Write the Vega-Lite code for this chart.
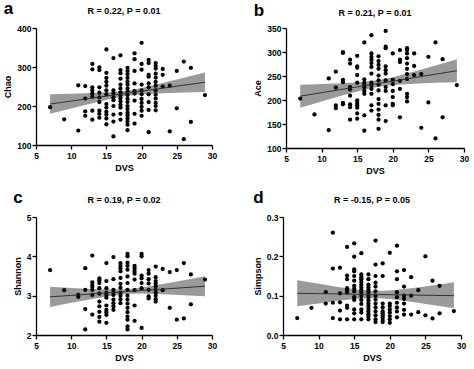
{
"$schema":"https://vega.github.io/schema/vega-lite/v6.json",
"padding":{"left":3,"top":0,"right":0,"bottom":0},
"background":"white",
"spacing":13,
"vconcat":[
 {"hconcat":[
  {"title":{"text":"a","anchor":"start","frame":"bounds","fontSize":17,"offset":-11},
   "vconcat":[{"width":176,"height":117,
    "title":{"text":"R = 0.22, P = 0.01","offset":8},
    "layer":[
     {"data":{"name":"ba"},"mark":{"type":"area","color":"#9a9a9a","opacity":1},
      "encoding":{"x":{"field":"x","type":"quantitative","scale":{"domain":[5,30],"nice":false,"zero":false},"axis":{"values":[5,10,15,20,25,30],"title":"DVS"}},
       "y":{"field":"lo","type":"quantitative","scale":{"domain":[100,400],"nice":false,"zero":false},"axis":{"values":[100,200,300,400],"labelOverlap":false,"labelSeparation":0,"title":"Chao"}},"y2":{"field":"hi"}}},
     {"data":{"name":"pa"},"mark":{"type":"circle","color":"black","opacity":1,"size":18},
      "encoding":{"x":{"field":"x","type":"quantitative","axis":{"values":[5,10,15,20,25,30],"title":"DVS"}},"y":{"field":"y","type":"quantitative","axis":{"values":[100,200,300,400],"labelOverlap":false,"labelSeparation":0,"title":"Chao"}}}},
     {"data":{"name":"ba"},"mark":{"type":"line","color":"#333333","strokeWidth":1},
      "encoding":{"x":{"field":"x","type":"quantitative","axis":{"values":[5,10,15,20,25,30],"title":"DVS"}},"y":{"field":"fit","type":"quantitative","axis":{"values":[100,200,300,400],"labelOverlap":false,"labelSeparation":0,"title":"Chao"}}}}
    ]}]},
  {"title":{"text":"b","anchor":"start","frame":"bounds","fontSize":17,"offset":-11},
   "vconcat":[{"width":178,"height":120,
    "title":{"text":"R = 0.21, P = 0.01","offset":6},
    "layer":[
     {"data":{"name":"bb"},"mark":{"type":"area","color":"#9a9a9a","opacity":1},
      "encoding":{"x":{"field":"x","type":"quantitative","scale":{"domain":[5,30],"nice":false,"zero":false},"axis":{"values":[5,10,15,20,25,30],"title":"DVS"}},
       "y":{"field":"lo","type":"quantitative","scale":{"domain":[100,350],"nice":false,"zero":false},"axis":{"values":[100,150,200,250,300,350],"title":"Ace"}},"y2":{"field":"hi"}}},
     {"data":{"name":"pb"},"mark":{"type":"circle","color":"black","opacity":1,"size":18},
      "encoding":{"x":{"field":"x","type":"quantitative","axis":{"values":[5,10,15,20,25,30],"title":"DVS"}},"y":{"field":"y","type":"quantitative","axis":{"values":[100,150,200,250,300,350],"title":"Ace"}}}},
     {"data":{"name":"bb"},"mark":{"type":"line","color":"#333333","strokeWidth":1},
      "encoding":{"x":{"field":"x","type":"quantitative","axis":{"values":[5,10,15,20,25,30],"title":"DVS"}},"y":{"field":"fit","type":"quantitative","axis":{"values":[100,150,200,250,300,350],"title":"Ace"}}}}
    ]}]}
 ],"spacing":36},
 {"hconcat":[
  {"title":{"text":"c","anchor":"start","frame":"bounds","fontSize":17,"offset":-11},
   "vconcat":[{"width":176,"height":118,
    "title":{"text":"R = 0.19, P = 0.02","offset":8},
    "layer":[
     {"data":{"name":"bc"},"mark":{"type":"area","color":"#9a9a9a","opacity":1},
      "encoding":{"x":{"field":"x","type":"quantitative","scale":{"domain":[5,30],"nice":false,"zero":false},"axis":{"values":[5,10,15,20,25,30],"title":"DVS"}},
       "y":{"field":"lo","type":"quantitative","scale":{"domain":[2,5],"nice":false,"zero":false},"axis":{"values":[2,3,4,5],"title":"Shannon"}},"y2":{"field":"hi"}}},
     {"data":{"name":"pc"},"mark":{"type":"circle","color":"black","opacity":1,"size":18},
      "encoding":{"x":{"field":"x","type":"quantitative","axis":{"values":[5,10,15,20,25,30],"title":"DVS"}},"y":{"field":"y","type":"quantitative","axis":{"values":[2,3,4,5],"title":"Shannon"}}}},
     {"data":{"name":"bc"},"mark":{"type":"line","color":"#333333","strokeWidth":1},
      "encoding":{"x":{"field":"x","type":"quantitative","axis":{"values":[5,10,15,20,25,30],"title":"DVS"}},"y":{"field":"fit","type":"quantitative","axis":{"values":[2,3,4,5],"title":"Shannon"}}}}
    ]}]},
  {"title":{"text":"d","anchor":"start","frame":"bounds","fontSize":17,"offset":-11},
   "vconcat":[{"width":178,"height":118,
    "title":{"text":"R = -0.15, P = 0.05","offset":8},
    "layer":[
     {"data":{"name":"bd"},"mark":{"type":"area","color":"#9a9a9a","opacity":1},
      "encoding":{"x":{"field":"x","type":"quantitative","scale":{"domain":[5,30],"nice":false,"zero":false},"axis":{"values":[5,10,15,20,25,30],"title":"DVS"}},
       "y":{"field":"lo","type":"quantitative","scale":{"domain":[0,0.3],"nice":false,"zero":false},"axis":{"values":[0,0.1,0.2,0.3],"format":".1f","title":"Simpson"}},"y2":{"field":"hi"}}},
     {"data":{"name":"pd"},"mark":{"type":"circle","color":"black","opacity":1,"size":18},
      "encoding":{"x":{"field":"x","type":"quantitative","axis":{"values":[5,10,15,20,25,30],"title":"DVS"}},"y":{"field":"y","type":"quantitative","axis":{"values":[0,0.1,0.2,0.3],"format":".1f","title":"Simpson"}}}},
     {"data":{"name":"bd"},"mark":{"type":"line","color":"#333333","strokeWidth":1},
      "encoding":{"x":{"field":"x","type":"quantitative","axis":{"values":[5,10,15,20,25,30],"title":"DVS"}},"y":{"field":"fit","type":"quantitative","axis":{"values":[0,0.1,0.2,0.3],"format":".1f","title":"Simpson"}}}}
    ]}]}
 ],"spacing":36}
],
"datasets":{
"ba":[{"x":7,"lo":180,"hi":230,"fit":205},{"x":10,"lo":193.8,"hi":231.4,"fit":212.6},{"x":13,"lo":207.3,"hi":233.3,"fit":220.3},{"x":16,"lo":219.7,"hi":236.1,"fit":227.9},{"x":18,"lo":226,"hi":240,"fit":233},{"x":20,"lo":229.9,"hi":246.3,"fit":238.1},{"x":23,"lo":232.7,"hi":258.7,"fit":245.7},{"x":26,"lo":234.6,"hi":272.2,"fit":253.4},{"x":29,"lo":236,"hi":286,"fit":261}],
"bb":[{"x":7,"lo":184,"hi":232,"fit":208},{"x":10,"lo":197.1,"hi":233.3,"fit":215.2},{"x":13,"lo":209.9,"hi":235.1,"fit":222.5},{"x":16,"lo":221.6,"hi":237.8,"fit":229.7},{"x":18,"lo":227.5,"hi":241.5,"fit":234.5},{"x":20,"lo":231.2,"hi":247.4,"fit":239.3},{"x":23,"lo":234,"hi":259.2,"fit":246.6},{"x":26,"lo":235.7,"hi":271.9,"fit":253.8},{"x":29,"lo":237,"hi":285,"fit":261}],
"bc":[{"x":7,"lo":2.715,"hi":3.225,"fit":2.97},{"x":10,"lo":2.817,"hi":3.197,"fit":3.007},{"x":13,"lo":2.916,"hi":3.172,"fit":3.044},{"x":16,"lo":3.005,"hi":3.155,"fit":3.08},{"x":18,"lo":3.045,"hi":3.165,"fit":3.105},{"x":20,"lo":3.055,"hi":3.205,"fit":3.13},{"x":23,"lo":3.038,"hi":3.294,"fit":3.166},{"x":26,"lo":3.013,"hi":3.393,"fit":3.203},{"x":29,"lo":2.985,"hi":3.495,"fit":3.24}],
"bd":[{"x":7,"lo":0.073,"hi":0.139,"fit":0.106},{"x":10,"lo":0.0804,"hi":0.13,"fit":0.1052},{"x":13,"lo":0.0874,"hi":0.1214,"fit":0.1044},{"x":16,"lo":0.0928,"hi":0.1142,"fit":0.1035},{"x":18,"lo":0.094,"hi":0.112,"fit":0.103},{"x":20,"lo":0.0918,"hi":0.1132,"fit":0.1025},{"x":23,"lo":0.0846,"hi":0.1186,"fit":0.1016},{"x":26,"lo":0.076,"hi":0.1256,"fit":0.1008},{"x":29,"lo":0.068,"hi":0.134,"fit":0.1}],
"pa":[{"x":7,"y":197},{"x":9,"y":166},{"x":11,"y":137},{"x":11,"y":253},{"x":12,"y":251},{"x":12,"y":219},{"x":12,"y":186},{"x":12,"y":175},
{"x":13,"y":308},{"x":13,"y":294},{"x":13,"y":248},{"x":13,"y":240},{"x":13,"y":232},{"x":13,"y":224},{"x":13,"y":188},{"x":13,"y":165},
{"x":14,"y":299},{"x":14,"y":292},{"x":14,"y":248},{"x":14,"y":234},{"x":14,"y":222},{"x":14,"y":210},{"x":14,"y":188},{"x":14,"y":180},{"x":14,"y":170},
{"x":15,"y":345},{"x":15,"y":285},{"x":15,"y":272},{"x":15,"y":262},{"x":15,"y":252},{"x":15,"y":240},{"x":15,"y":230},{"x":15,"y":205},{"x":15,"y":196},{"x":15,"y":185},{"x":15,"y":178},{"x":15,"y":168},{"x":15,"y":153},
{"x":16,"y":323},{"x":16,"y":240},{"x":16,"y":232},{"x":16,"y":222},{"x":16,"y":215},{"x":16,"y":200},{"x":16,"y":178},{"x":16,"y":160},{"x":16,"y":122},
{"x":17,"y":330},{"x":17,"y":292},{"x":17,"y":284},{"x":17,"y":270},{"x":17,"y":255},{"x":17,"y":245},{"x":17,"y":235},{"x":17,"y":228},{"x":17,"y":220},{"x":17,"y":212},{"x":17,"y":203},{"x":17,"y":196},{"x":17,"y":180},{"x":17,"y":165},
{"x":18,"y":298},{"x":18,"y":290},{"x":18,"y":282},{"x":18,"y":272},{"x":18,"y":262},{"x":18,"y":255},{"x":18,"y":245},{"x":18,"y":236},{"x":18,"y":228},{"x":18,"y":218},{"x":18,"y":210},{"x":18,"y":200},{"x":18,"y":192},{"x":18,"y":183},{"x":18,"y":176},{"x":18,"y":168},{"x":18,"y":160},{"x":18,"y":152},{"x":18,"y":138},
{"x":19,"y":335},{"x":19,"y":320},{"x":19,"y":290},{"x":19,"y":258},{"x":19,"y":238},{"x":19,"y":232},{"x":19,"y":214},{"x":19,"y":180},{"x":19,"y":155},
{"x":20,"y":362},{"x":20,"y":308},{"x":20,"y":293},{"x":20,"y":255},{"x":20,"y":240},{"x":20,"y":230},{"x":20,"y":218},{"x":20,"y":208},{"x":20,"y":198},{"x":20,"y":188},{"x":20,"y":175},
{"x":21,"y":318},{"x":21,"y":310},{"x":21,"y":280},{"x":21,"y":275},{"x":21,"y":258},{"x":21,"y":248},{"x":21,"y":230},{"x":21,"y":210},{"x":21,"y":190},{"x":21,"y":133},
{"x":22,"y":310},{"x":22,"y":303},{"x":22,"y":296},{"x":22,"y":283},{"x":22,"y":273},{"x":22,"y":262},{"x":22,"y":252},{"x":22,"y":240},{"x":22,"y":229},{"x":22,"y":219},{"x":22,"y":208},{"x":22,"y":200},{"x":22,"y":189},
{"x":23,"y":295},{"x":23,"y":280},{"x":23,"y":250},{"x":24,"y":252},{"x":24,"y":135},{"x":25,"y":290},{"x":25,"y":194},{"x":26,"y":314},{"x":26,"y":115},{"x":27,"y":298},{"x":27,"y":159},{"x":29,"y":228}],
"pb":[{"x":7,"y":203},{"x":9,"y":170},{"x":11,"y":137},{"x":11,"y":245},{"x":12,"y":259},{"x":12,"y":226},{"x":12,"y":189},{"x":12,"y":183},
{"x":13,"y":300},{"x":13,"y":298},{"x":13,"y":242},{"x":13,"y":237},{"x":13,"y":194},{"x":13,"y":191},
{"x":14,"y":284},{"x":14,"y":276},{"x":14,"y":227},{"x":14,"y":222},{"x":14,"y":209},{"x":14,"y":191},{"x":14,"y":185},{"x":14,"y":159},
{"x":15,"y":292},{"x":15,"y":270},{"x":15,"y":267},{"x":15,"y":252},{"x":15,"y":236},{"x":15,"y":199},{"x":15,"y":194},{"x":15,"y":189},{"x":15,"y":184},{"x":15,"y":172},{"x":15,"y":161},
{"x":16,"y":320},{"x":16,"y":243},{"x":16,"y":236},{"x":16,"y":231},{"x":16,"y":226},{"x":16,"y":219},{"x":16,"y":213},{"x":16,"y":168},{"x":16,"y":136},
{"x":17,"y":335},{"x":17,"y":297},{"x":17,"y":290},{"x":17,"y":284},{"x":17,"y":277},{"x":17,"y":269},{"x":17,"y":255},{"x":17,"y":236},{"x":17,"y":231},{"x":17,"y":223},{"x":17,"y":213},{"x":17,"y":189},{"x":17,"y":178},
{"x":18,"y":291},{"x":18,"y":281},{"x":18,"y":273},{"x":18,"y":265},{"x":18,"y":251},{"x":18,"y":241},{"x":18,"y":232},{"x":18,"y":220},{"x":18,"y":202},{"x":18,"y":192},{"x":18,"y":180},{"x":18,"y":169},{"x":18,"y":159},{"x":18,"y":140},
{"x":19,"y":344},{"x":19,"y":311},{"x":19,"y":308},{"x":19,"y":270},{"x":19,"y":262},{"x":19,"y":255},{"x":19,"y":241},{"x":19,"y":227},{"x":19,"y":219},{"x":19,"y":189},{"x":19,"y":156},
{"x":20,"y":297},{"x":20,"y":242},{"x":20,"y":233},{"x":20,"y":219},{"x":20,"y":206},{"x":20,"y":192},{"x":20,"y":189},
{"x":21,"y":304},{"x":21,"y":284},{"x":21,"y":279},{"x":21,"y":240},{"x":21,"y":223},{"x":21,"y":164},
{"x":22,"y":308},{"x":22,"y":304},{"x":22,"y":297},{"x":22,"y":287},{"x":22,"y":276},{"x":22,"y":265},{"x":22,"y":254},{"x":22,"y":244},{"x":22,"y":213},{"x":22,"y":206},{"x":22,"y":197},
{"x":23,"y":297},{"x":23,"y":271},{"x":23,"y":252},{"x":24,"y":254},{"x":24,"y":142},{"x":25,"y":290},{"x":25,"y":195},{"x":26,"y":320},{"x":26,"y":120},{"x":27,"y":285},{"x":27,"y":164},{"x":29,"y":231}],
"pc":[{"x":7,"y":3.65},{"x":9,"y":3.14},{"x":11,"y":3.02},{"x":11,"y":2.97},{"x":12,"y":3.7},{"x":12,"y":3.15},{"x":12,"y":2.66},{"x":12,"y":2.14},
{"x":13,"y":4.02},{"x":13,"y":3.34},{"x":13,"y":3.27},{"x":13,"y":3.22},{"x":13,"y":3.15},{"x":13,"y":3.02},{"x":13,"y":2.52},
{"x":14,"y":3.44},{"x":14,"y":3.39},{"x":14,"y":3.32},{"x":14,"y":3.19},{"x":14,"y":3.05},{"x":14,"y":2.85},{"x":14,"y":2.73},{"x":14,"y":2.59},{"x":14,"y":2.46},{"x":14,"y":2.34},
{"x":15,"y":3.83},{"x":15,"y":3.37},{"x":15,"y":3.19},{"x":15,"y":3.08},{"x":15,"y":3.02},{"x":15,"y":2.95},{"x":15,"y":2.75},{"x":15,"y":2.64},{"x":15,"y":2.58},{"x":15,"y":2.51},{"x":15,"y":2.31},
{"x":16,"y":3.98},{"x":16,"y":3.42},{"x":16,"y":3.15},{"x":16,"y":3.08},{"x":16,"y":3.02},{"x":16,"y":2.9},{"x":16,"y":2.81},{"x":16,"y":2.73},{"x":16,"y":2.64},
{"x":17,"y":3.83},{"x":17,"y":3.76},{"x":17,"y":3.7},{"x":17,"y":3.62},{"x":17,"y":3.45},{"x":17,"y":3.3},{"x":17,"y":3.2},{"x":17,"y":3.08},{"x":17,"y":3.0},{"x":17,"y":2.91},{"x":17,"y":2.81},
{"x":18,"y":4.06},{"x":18,"y":4.0},{"x":18,"y":3.84},{"x":18,"y":3.76},{"x":18,"y":3.66},{"x":18,"y":3.49},{"x":18,"y":3.32},{"x":18,"y":3.15},{"x":18,"y":3.0},{"x":18,"y":2.9},{"x":18,"y":2.8},{"x":18,"y":2.69},{"x":18,"y":2.58},{"x":18,"y":2.47},{"x":18,"y":2.39},{"x":18,"y":2.22},{"x":18,"y":2.14},
{"x":19,"y":3.76},{"x":19,"y":3.7},{"x":19,"y":3.63},{"x":19,"y":3.56},{"x":19,"y":3.41},{"x":19,"y":3.14},{"x":19,"y":2.75},{"x":19,"y":2.36},
{"x":20,"y":4.06},{"x":20,"y":4.0},{"x":20,"y":3.51},{"x":20,"y":3.44},{"x":20,"y":3.32},{"x":20,"y":3.19},{"x":20,"y":2.18},
{"x":21,"y":3.65},{"x":21,"y":3.56},{"x":21,"y":3.42},{"x":21,"y":3.31},{"x":21,"y":3.15},{"x":21,"y":2.98},{"x":21,"y":2.93},
{"x":22,"y":3.74},{"x":22,"y":3.47},{"x":22,"y":3.37},{"x":22,"y":3.31},{"x":22,"y":3.24},{"x":22,"y":3.15},{"x":22,"y":3.08},{"x":22,"y":3.0},{"x":22,"y":2.91},{"x":22,"y":2.85},
{"x":23,"y":3.68},{"x":23,"y":3.14},{"x":24,"y":3.6},{"x":24,"y":2.69},{"x":25,"y":3.65},{"x":25,"y":2.39},{"x":26,"y":3.83},{"x":26,"y":2.42},{"x":27,"y":3.54},{"x":27,"y":2.78},{"x":29,"y":3.41}],
"pd":[{"x":7,"y":0.043},{"x":9,"y":0.069},{"x":11,"y":0.109},{"x":11,"y":0.08},{"x":12,"y":0.26},{"x":12,"y":0.169},{"x":12,"y":0.082},{"x":12,"y":0.043},
{"x":13,"y":0.171},{"x":13,"y":0.106},{"x":13,"y":0.083},{"x":13,"y":0.062},{"x":13,"y":0.04},
{"x":14,"y":0.224},{"x":14,"y":0.151},{"x":14,"y":0.142},{"x":14,"y":0.119},{"x":14,"y":0.113},{"x":14,"y":0.108},{"x":14,"y":0.075},{"x":14,"y":0.069},{"x":14,"y":0.04},
{"x":15,"y":0.233},{"x":15,"y":0.199},{"x":15,"y":0.167},{"x":15,"y":0.162},{"x":15,"y":0.15},{"x":15,"y":0.138},{"x":15,"y":0.125},{"x":15,"y":0.118},{"x":15,"y":0.111},{"x":15,"y":0.096},{"x":15,"y":0.089},{"x":15,"y":0.065},{"x":15,"y":0.055},{"x":15,"y":0.04},
{"x":16,"y":0.208},{"x":16,"y":0.154},{"x":16,"y":0.147},{"x":16,"y":0.142},{"x":16,"y":0.135},{"x":16,"y":0.128},{"x":16,"y":0.121},{"x":16,"y":0.114},{"x":16,"y":0.108},{"x":16,"y":0.099},{"x":16,"y":0.089},{"x":16,"y":0.079},{"x":16,"y":0.065},{"x":16,"y":0.057},{"x":16,"y":0.04},
{"x":17,"y":0.154},{"x":17,"y":0.142},{"x":17,"y":0.128},{"x":17,"y":0.121},{"x":17,"y":0.114},{"x":17,"y":0.108},{"x":17,"y":0.1},{"x":17,"y":0.094},{"x":17,"y":0.087},{"x":17,"y":0.08},{"x":17,"y":0.074},{"x":17,"y":0.067},{"x":17,"y":0.06},{"x":17,"y":0.053},{"x":17,"y":0.047},{"x":17,"y":0.04},
{"x":18,"y":0.24},{"x":18,"y":0.179},{"x":18,"y":0.15},{"x":18,"y":0.133},{"x":18,"y":0.123},{"x":18,"y":0.111},{"x":18,"y":0.1},{"x":18,"y":0.09},{"x":18,"y":0.08},{"x":18,"y":0.07},{"x":18,"y":0.06},{"x":18,"y":0.05},{"x":18,"y":0.04},{"x":18,"y":0.033},
{"x":19,"y":0.182},{"x":19,"y":0.15},{"x":19,"y":0.08},{"x":19,"y":0.07},{"x":19,"y":0.06},{"x":19,"y":0.055},{"x":19,"y":0.05},{"x":19,"y":0.045},{"x":19,"y":0.038},{"x":19,"y":0.033},
{"x":20,"y":0.209},{"x":20,"y":0.08},{"x":20,"y":0.074},{"x":20,"y":0.065},{"x":20,"y":0.057},{"x":20,"y":0.048},{"x":20,"y":0.04},{"x":20,"y":0.031},
{"x":21,"y":0.227},{"x":21,"y":0.162},{"x":21,"y":0.142},{"x":21,"y":0.109},{"x":21,"y":0.096},{"x":21,"y":0.082},{"x":21,"y":0.07},{"x":21,"y":0.06},{"x":21,"y":0.045},
{"x":22,"y":0.165},{"x":22,"y":0.123},{"x":22,"y":0.1},{"x":22,"y":0.092},{"x":22,"y":0.08},{"x":22,"y":0.064},{"x":22,"y":0.052},
{"x":23,"y":0.147},{"x":23,"y":0.1},{"x":23,"y":0.052},{"x":24,"y":0.114},{"x":24,"y":0.058},{"x":25,"y":0.2},{"x":25,"y":0.05},{"x":26,"y":0.138},{"x":26,"y":0.042},{"x":27,"y":0.125},{"x":27,"y":0.055},{"x":29,"y":0.061}]
},
"config":{
 "view":{"stroke":null},
 "axis":{"domainColor":"black","domainWidth":1.3,"tickColor":"black","tickWidth":1.3,"tickSize":4,"grid":false,
  "labelOverlap":false,"labelFlush":false,"labelBound":false,
  "labelFont":"Liberation Sans","labelFontWeight":"bold","labelFontSize":8.5,"labelColor":"black","labelPadding":1,
  "titleFont":"Liberation Sans","titleFontWeight":"bold","titleFontSize":9,"titleColor":"black","titlePadding":4},
 "axisX":{"labelPadding":2,"titlePadding":4},
 "title":{"font":"Liberation Sans","fontSize":9,"fontWeight":"bold","color":"black"}
}
}
